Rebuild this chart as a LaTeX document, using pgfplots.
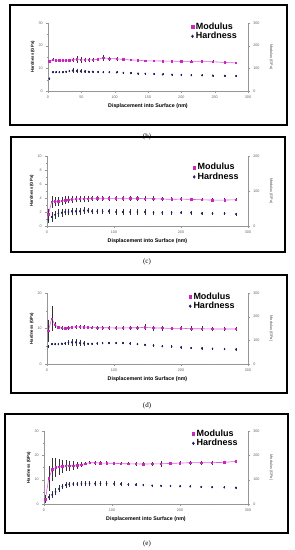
\documentclass[border=0pt]{standalone}
\usepackage{pgfplots}
\pgfplotsset{compat=1.18}
\usepackage{pgfplotstable}
\usepackage{fontspec}
\setmainfont{Liberation Sans}
\newfontfamily\serif{Liberation Serif}
\definecolor{modcol}{RGB}{200,40,190}
\definecolor{modline}{RGB}{225,90,220}
\definecolor{hardcol}{RGB}{30,30,100}
\definecolor{axcol}{RGB}{150,150,150}

% x, modulus, modulus err, hardness, hardness err
\pgfplotstableread{
x M Me H He
2 130 3 5.5 0.2
7 138 3 8.3 0.2
12 135 3 8.3 0.2
17 135 3 8.3 0.2
22 135 3 8.3 0.2
27 135 4 8.5 0.3
32 136 4 8.8 0.4
37 137 6 9.0 0.8
43 139 12 8.8 0.8
49 138 10 8.7 0.6
55 137 8 8.6 0.4
61 137 8 8.5 0.3
67 137 6 8.5 0.2
75 140 3 8.4 0.2
83 147 10 8.3 0.2
92 143 6 8.3 0.2
103 142 5 8.2 0.2
113 139 4 8.0 0.2
124 137 3 7.9 0.2
135 136 3 7.7 0.2
146 133 3 7.6 0.2
159 133 3 7.5 0.2
172 132 3 7.3 0.2
186 132 3 7.2 0.2
200 130 3 7.1 0.2
215 129 3 7.0 0.2
231 130 3 6.9 0.2
247 129 3 6.8 0.2
265 126 3 6.7 0.2
282 124 3 6.6 0.2
}\tabB
\pgfplotstableread{
x M Me H He
2 33 15 0.9 0.4
7 69 15 1.3 0.6
12 70 10 1.6 0.5
17 70 10 1.8 0.5
22 72 10 1.9 0.5
27 74 10 2.0 0.4
32 75 8 2.0 0.4
37 76 8 2.1 0.4
43 77 8 2.1 0.4
49 77 8 2.1 0.4
55 78 7 2.2 0.4
61 78 7 2.2 0.3
67 79 6 2.1 0.3
75 79 6 2.1 0.3
83 79 5 2.1 0.3
92 79 5 2.1 0.3
103 79 5 2.0 0.3
113 79 5 2.0 0.3
124 79 5 2.0 0.3
135 79 5 2.0 0.3
146 78 5 2.0 0.3
159 78 5 1.9 0.2
172 77 4 1.9 0.2
186 76 4 1.9 0.2
200 77 3 1.9 0.15
215 76 3 1.9 0.2
231 75 3 1.8 0.15
247 74 3 1.8 0.15
265 74 3 1.8 0.15
282 75 3 1.7 0.15
}\tabC
\pgfplotstableread{
x M Me H He
2 140 45 4.9 0.2
7 192 50 5.6 0.2
12 165 10 5.6 0.2
17 155 5 5.6 0.2
22 152 5 5.7 0.2
27 150 5 5.8 0.2
32 152 5 6.0 0.5
37 155 5 6.1 0.8
43 157 5 6.1 0.8
49 157 5 5.9 0.8
55 156 5 5.8 0.5
61 155 5 5.7 0.2
67 154 5 5.7 0.2
75 153 5 5.8 0.2
83 153 5 5.9 0.2
92 153 5 5.9 0.2
103 152 5 5.9 0.2
113 152 5 5.9 0.2
124 153 5 5.8 0.2
135 153 6 5.6 0.2
146 155 10 5.4 0.2
159 152 8 5.2 0.2
172 152 8 5.0 0.2
186 150 5 4.9 0.2
200 151 5 4.7 0.2
215 149 7 4.5 0.2
231 149 7 4.4 0.2
247 148 7 4.3 0.2
265 148 7 4.2 0.2
282 148 7 4.1 0.2
}\tabD
\pgfplotstableread{
x M Me H He
2 20 15 1.5 0.5
7 105 50 2.8 1.0
12 142 45 3.8 1.2
17 150 35 5.0 1.2
22 153 30 6.2 1.2
27 155 25 7.2 1.0
32 157 20 7.8 1.0
37 158 18 8.1 0.9
43 158 15 8.2 0.8
49 160 12 8.2 0.8
55 162 8 8.3 0.8
61 166 5 8.4 0.8
67 170 5 8.4 0.8
75 170 6 8.4 0.8
83 168 5 8.4 0.8
92 168 5 8.4 0.8
103 167 4 8.3 0.8
113 166 4 8.2 0.6
124 165 4 8.0 0.5
135 165 5 7.9 0.4
146 164 5 7.8 0.2
159 165 5 7.6 0.2
172 165 10 7.5 0.2
186 167 5 7.4 0.2
200 168 5 7.3 0.2
215 170 6 7.2 0.2
231 170 6 7.0 0.2
247 170 6 6.9 0.2
265 171 5 6.8 0.2
282 175 5 6.7 0.2
}\tabE

\pgfplotsset{
  base/.style={
    scale only axis, xmin=0, xmax=300,
    axis line style={axcol, line width=0.4pt},
    tick style={axcol, line width=0.3pt},
    major tick length=1.8pt, minor tick length=1.1pt,
    tick align=outside,
    tick label style={font=\fontsize{3.7}{4}\selectfont, text=black!60},
    /pgf/number format/assume math mode=true,
    clip=false,
  },
  leftax/.style={base,
    axis x line*=bottom, axis y line*=left,
    xlabel={Displacement into Surface (nm)},
    ylabel={Hardness (GPa)},
    xlabel style={font=\fontsize{5.3}{6}\bfseries, yshift=2pt},
    ylabel style={font=\fontsize{4.2}{5}\bfseries, yshift=-3pt},
    xtick pos=bottom, ytick pos=left,
  },
  rightax/.style={base,
    axis x line=none, axis y line*=right,
    ylabel={Modulus (GPa)},
    ylabel style={font=\fontsize{3.8}{4.5}\selectfont, text=black!70, rotate=180, yshift=3pt},
    ytick pos=right,
    legend cell align=left,
    legend style={draw=none, fill=none, anchor=north west,
      font=\fontsize{9}{10}\bfseries, row sep=-2.5pt, inner sep=1pt},
  },
  hpl/.style={only marks, mark=diamond*, mark size=0.8pt, color=hardcol,
     error bars/.cd, y dir=both, y explicit,
     error bar style={black!80, line width=0.25pt}, error mark options={black!80, mark size=0.5pt, line width=0.25pt}},
  mpl/.style={color=modline, line width=0.6pt, mark=square*, mark size=0.75pt,
     mark options={color=modcol},
     error bars/.cd, y dir=both, y explicit,
     error bar style={black!80, line width=0.25pt}, error mark options={black!80, mark size=0.6pt, line width=0.25pt}},
}

\begin{document}
\begin{tikzpicture}[x=1pt,y=1pt]
\useasboundingbox (0,0) rectangle (295,550);
\fill[white] (0,0) rectangle (295,550);

% frames
\draw[line width=1.3pt] (10,425) rectangle (287,545);
\draw[line width=1.3pt] (11,298) rectangle (285,413);
\draw[line width=1.3pt] (11,157) rectangle (287,275);
\draw[line width=1.3pt] (5,17) rectangle (288,136);
\node[font=\serif\fontsize{7}{8}\selectfont] at (147,413) {(b)};
\node[font=\serif\fontsize{7}{8}\selectfont] at (147,288) {(c)};
\node[font=\serif\fontsize{7}{8}\selectfont] at (147,144) {(d)};
\node[font=\serif\fontsize{7}{8}\selectfont] at (147,6) {(e)};

% ---------- (b)
\begin{axis}[leftax, at={(48pt,459pt)}, anchor=south west, width=200pt, height=68pt,
  ymin=0, ymax=30, ytick={0,10,20,30}, minor y tick num=1,
  xtick={0,50,...,300}]
\addplot+[hpl] table[x=x, y=H, y error=He] {\tabB};
\end{axis}
\begin{axis}[rightax, at={(48pt,459pt)}, anchor=south west, width=200pt, height=68pt,
  ymin=0, ymax=300, ytick={0,100,200,300}, minor y tick num=1,
  legend style={at={(0.71,1.05)}}]
\addplot+[forget plot, mpl] table[x=x, y=M, y error=Me] {\tabB};
\addlegendimage{only marks, mark=square*, mark size=1.3pt, color=modcol}
\addlegendentry{Modulus}
\addlegendimage{only marks, mark=diamond*, mark size=1.4pt, color=hardcol}
\addlegendentry{Hardness}
\end{axis}

% ---------- (c)
\begin{axis}[leftax, at={(47pt,324pt)}, anchor=south west, width=201pt, height=70pt,
  ymin=0, ymax=10, ytick={0,2,...,10}, minor y tick num=1,
  xtick={0,100,200,300}, minor x tick num=1]
\addplot+[hpl] table[x=x, y=H, y error=He] {\tabC};
\end{axis}
\begin{axis}[rightax, at={(47pt,324pt)}, anchor=south west, width=201pt, height=70pt,
  ymin=0, ymax=200, ytick={0,100,200}, minor y tick num=1,
  legend style={at={(0.72,0.94)}}]
\addplot+[forget plot, mpl] table[x=x, y=M, y error=Me] {\tabC};
\addlegendimage{only marks, mark=square*, mark size=1.3pt, color=modcol}
\addlegendentry{Modulus}
\addlegendimage{only marks, mark=diamond*, mark size=1.4pt, color=hardcol}
\addlegendentry{Hardness}
\end{axis}

% ---------- (d)
\begin{axis}[leftax, at={(47pt,186pt)}, anchor=south west, width=201pt, height=71pt,
  ymin=0, ymax=20, ytick={0,10,20}, minor y tick num=1,
  xtick={0,100,200,300}, minor x tick num=1]
\addplot+[hpl] table[x=x, y=H, y error=He] {\tabD};
\end{axis}
\begin{axis}[rightax, at={(47pt,186pt)}, anchor=south west, width=201pt, height=71pt,
  ymin=0, ymax=300, ytick={0,100,200,300}, minor y tick num=1,
  legend style={at={(0.70,1.05)}}]
\addplot+[forget plot, mpl] table[x=x, y=M, y error=Me] {\tabD};
\addlegendimage{only marks, mark=square*, mark size=1.3pt, color=modcol}
\addlegendentry{Modulus}
\addlegendimage{only marks, mark=diamond*, mark size=1.4pt, color=hardcol}
\addlegendentry{Hardness}
\end{axis}

% ---------- (e)
\begin{axis}[leftax, at={(44pt,46pt)}, anchor=south west, width=204pt, height=73pt,
  ymin=0, ymax=30, ytick={0,10,20,30}, minor y tick num=1,
  xtick={0,100,200,300}, minor x tick num=1]
\addplot+[hpl] table[x=x, y=H, y error=He] {\tabE};
\end{axis}
\begin{axis}[rightax, at={(44pt,46pt)}, anchor=south west, width=204pt, height=73pt,
  ymin=0, ymax=300, ytick={0,100,200,300}, minor y tick num=1,
  legend style={at={(0.72,1.06)}}]
\addplot+[forget plot, mpl] table[x=x, y=M, y error=Me] {\tabE};
\addlegendimage{only marks, mark=square*, mark size=1.3pt, color=modcol}
\addlegendentry{Modulus}
\addlegendimage{only marks, mark=diamond*, mark size=1.4pt, color=hardcol}
\addlegendentry{Hardness}
\end{axis}
\end{tikzpicture}
\end{document}
